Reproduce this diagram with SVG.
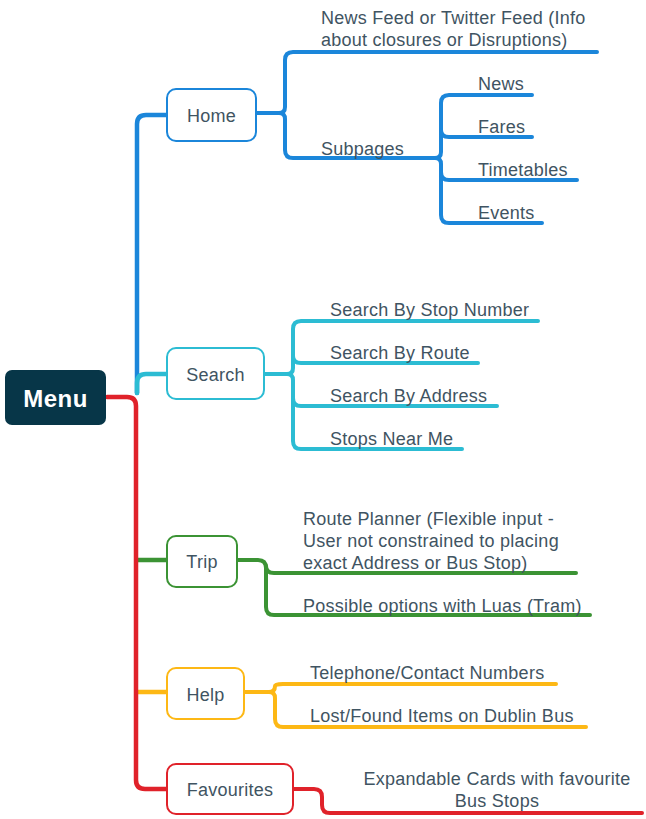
<svg xmlns="http://www.w3.org/2000/svg" width="646" height="819" viewBox="0 0 646 819">
<style>
.t{font-family:"Liberation Sans",Arial,sans-serif;font-size:18px;letter-spacing:0.25px;fill:#3f5462}
.c{text-anchor:middle}
.l{fill:none;stroke-linecap:round;stroke-linejoin:round;stroke-width:4}
.tr{stroke-width:4.5}
.b{stroke:#1b86da}.cy{stroke:#2cbcd3}.g{stroke:#3b9334}.y{stroke:#fdb815}.r{stroke:#e0222a}
.n{fill:#fff;stroke-width:2}
</style>
<g id="connectors">
<path class="l tr b" d="M137,393 V124 Q137,115 146,115 H167"/>
<path class="l tr cy" d="M137,393 V383 Q137,374 146,374 H167"/>
<path class="l tr g" d="M138,560 H167"/>
<path class="l tr y" d="M138,692 H167"/>
<path class="l tr r" d="M107,397 H127 Q136,397 136,406 V780 Q136,789 145,789 H167"/>
<path class="l b" d="M256,113 H279 Q285,113 285,107 V60 Q285,52 293,52 H597"/>
<path class="l b" d="M279,113 Q285,113 285,119 V150 Q285,158 293,158 H435 Q441,158 441,152 V103 Q441,95 449,95 H532"/>
<path class="l b" d="M435,158 Q441,158 441,164 V215 Q441,223 449,223 H542"/>
<path class="l b" d="M441,130 Q441,137 449,137 H532"/>
<path class="l b" d="M441,172 Q441,180 449,180 H577"/>
<path class="l cy" d="M264,374 H287 Q293,374 293,368 V329 Q293,321 301,321 H538"/>
<path class="l cy" d="M287,374 Q293,374 293,380 V441 Q293,449 301,449 H462"/>
<path class="l cy" d="M293,356 Q293,363 301,363 H478"/>
<path class="l cy" d="M293,398 Q293,406 301,406 H497"/>
<path class="l g" d="M237,560 H258 Q266,560 266,568 V607 Q266,615 274,615 H590"/>
<path class="l g" d="M266,566 Q266,573 274,573 H576"/>
<path class="l y" d="M244,692 H269 Q275,692 275,686 Q275,684 283,684 H556"/>
<path class="l y" d="M269,692 Q275,692 275,698 V719 Q275,727 283,727 H586"/>
<path class="l r" d="M293,789 H314 Q322,789 322,797 V805 Q322,813 330,813 H642"/>
</g>
<g id="menu"><rect x="5" y="370" width="101" height="55" rx="7" fill="#073648"/><text x="55.5" y="407" class="c" font-family="Liberation Sans,Arial,sans-serif" font-size="24" font-weight="bold" letter-spacing="0.5" fill="#fff">Menu</text></g>
<g id="home"><rect class="n b" x="167" y="89" width="89" height="52" rx="9"/><text class="t c" x="211.5" y="122">Home</text></g>
<g id="search"><rect class="n cy" x="167" y="348" width="97" height="51" rx="9"/><text class="t c" x="215.5" y="381">Search</text></g>
<g id="trip"><rect class="n g" x="167" y="536" width="70" height="51" rx="9"/><text class="t c" x="202" y="568">Trip</text></g>
<g id="help"><rect class="n y" x="167" y="668" width="77" height="51" rx="9"/><text class="t c" x="205.5" y="701">Help</text></g>
<g id="favourites"><rect class="n r" x="167" y="764" width="126" height="50" rx="9"/><text class="t c" x="230" y="796">Favourites</text></g>
<g id="home-children">
<text class="t" x="321" y="24">News Feed or Twitter Feed (Info</text>
<text class="t" x="321" y="46">about closures or Disruptions)</text>
<text class="t" x="321" y="155">Subpages</text>
<text class="t" x="478" y="90">News</text>
<text class="t" x="478" y="133">Fares</text>
<text class="t" x="478" y="176">Timetables</text>
<text class="t" x="478" y="219">Events</text>
</g>
<g id="search-children">
<text class="t" x="330" y="316">Search By Stop Number</text>
<text class="t" x="330" y="359">Search By Route</text>
<text class="t" x="330" y="402">Search By Address</text>
<text class="t" x="330" y="445">Stops Near Me</text>
</g>
<g id="trip-children">
<text class="t" x="303" y="525">Route Planner (Flexible input -</text>
<text class="t" x="303" y="547">User not constrained to placing</text>
<text class="t" x="303" y="569">exact Address or Bus Stop)</text>
<text class="t" x="303" y="612">Possible options with Luas (Tram)</text>
</g>
<g id="help-children">
<text class="t" x="310" y="679">Telephone/Contact Numbers</text>
<text class="t" x="310" y="722">Lost/Found Items on Dublin Bus</text>
</g>
<g id="favourites-children">
<text class="t c" x="497" y="785">Expandable Cards with favourite</text>
<text class="t c" x="497" y="807">Bus Stops</text>
</g>
</svg>
